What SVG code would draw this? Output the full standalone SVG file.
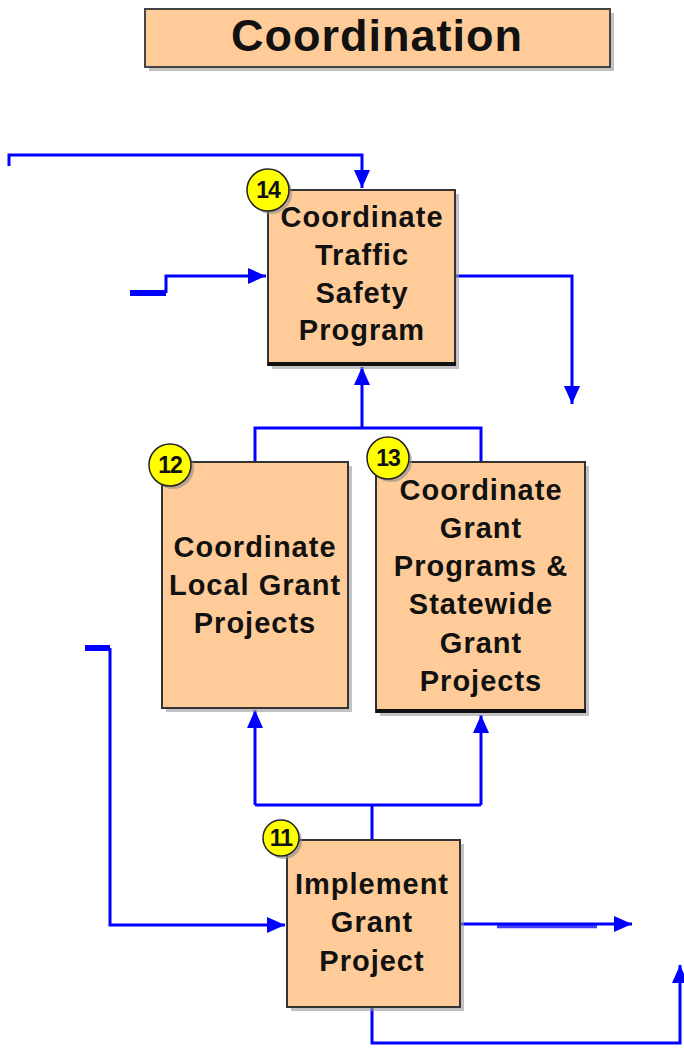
<svg xmlns="http://www.w3.org/2000/svg" width="684" height="1049" viewBox="0 0 684 1049">
<defs>
<marker id="a" viewBox="0 0 18 16" refX="18" refY="8" markerWidth="18" markerHeight="16" markerUnits="userSpaceOnUse" orient="auto">
<path d="M0,0 L18,8 L0,16 z" fill="#0000FF"/>
</marker>
</defs>
<style>
.box{fill:#FFCC99;stroke:#333;stroke-width:2}
.sh{fill:#9a9a9a;opacity:0.6}
.lbl{font-family:"Liberation Sans",Arial,sans-serif;font-weight:bold;font-size:29px;letter-spacing:1px;fill:#111;text-anchor:middle}
.badge{fill:#FFFF00;stroke:#222;stroke-width:1.5}
.bsh{fill:#888;opacity:0.6}
.num{font-family:"Liberation Sans",Arial,sans-serif;font-weight:bold;font-size:23px;letter-spacing:-1px;fill:#111;text-anchor:middle}
.c{fill:none;stroke:#0000FF;stroke-width:3}
.ct{fill:none;stroke:#0000FF;stroke-width:6}
</style>
<rect width="684" height="1049" fill="#fff"/>

<g id="title">
<rect x="149" y="13" width="465" height="58" class="sh"/>
<rect x="145" y="9" width="465" height="58" fill="#FFCC99" stroke="#444" stroke-width="2"/>
<text x="377" y="51" font-family="'Liberation Sans',Arial,sans-serif" font-weight="bold" font-size="45" letter-spacing="1" text-anchor="middle" fill="#111">Coordination</text>
</g>

<g id="connectors">
<polyline class="c" points="9,166 9,155 362,155 362,188" marker-end="url(#a)"/>
<polyline class="ct" points="130,293 166,293"/>
<polyline class="c" points="166,293 166,276 266,276" marker-end="url(#a)"/>
<polyline class="c" points="455,276 572,276 572,404" marker-end="url(#a)"/>
<polyline class="c" points="255,462 255,428 481,428 481,462"/>
<polyline class="c" points="362,428 362,367" marker-end="url(#a)"/>
<polyline class="ct" points="85,648 110,648"/>
<polyline class="c" points="110,648 110,925 285,925" marker-end="url(#a)"/>
<polyline class="c" points="460,924 632,924" marker-end="url(#a)"/>
<polyline fill="none" stroke="#0000FF" stroke-width="4.5" stroke-opacity="0.75" points="497,926 597,926"/>
<polyline class="c" points="372,840 372,805"/>
<polyline class="c" points="255,805 481,805"/>
<polyline class="c" points="255,805 255,710" marker-end="url(#a)"/>
<polyline class="c" points="481,805 481,715" marker-end="url(#a)"/>
<polyline class="c" points="372,1008 372,1043 680,1043 680,965" marker-end="url(#a)"/>
</g>

<g id="node14">
<rect x="272" y="194" width="187" height="175" class="sh"/>
<rect x="268" y="190" width="187" height="175" class="box"/>
<line x1="268" y1="364" x2="456" y2="364" stroke="#111" stroke-width="4"/>
<text class="lbl"><tspan x="362" y="227">Coordinate</tspan><tspan x="362" y="265">Traffic</tspan><tspan x="362" y="303">Safety</tspan><tspan x="362" y="340">Program</tspan></text>
<circle cx="271" cy="193" r="21" class="bsh"/>
<circle cx="268" cy="190" r="21" class="badge"/>
<text x="268" y="198" class="num">14</text>
</g>

<g id="node12">
<rect x="166" y="466" width="186" height="246" class="sh"/>
<rect x="162" y="462" width="186" height="246" class="box"/>
<text class="lbl"><tspan x="255" y="557">Coordinate</tspan><tspan x="255" y="595">Local Grant</tspan><tspan x="255" y="633">Projects</tspan></text>
<circle cx="173" cy="468" r="21" class="bsh"/>
<circle cx="170" cy="465" r="21" class="badge"/>
<text x="170" y="473" class="num">12</text>
</g>

<g id="node13">
<rect x="380" y="466" width="209" height="250" class="sh"/>
<rect x="376" y="462" width="209" height="250" class="box"/>
<line x1="376" y1="711" x2="586" y2="711" stroke="#111" stroke-width="4"/>
<text class="lbl"><tspan x="481" y="500">Coordinate</tspan><tspan x="481" y="538">Grant</tspan><tspan x="481" y="576">Programs &amp;</tspan><tspan x="481" y="614">Statewide</tspan><tspan x="481" y="653">Grant</tspan><tspan x="481" y="691">Projects</tspan></text>
<circle cx="391" cy="461" r="21" class="bsh"/>
<circle cx="388" cy="458" r="21" class="badge"/>
<text x="388" y="466" class="num">13</text>
</g>

<g id="node11">
<rect x="291" y="844" width="173" height="167" class="sh"/>
<rect x="287" y="840" width="173" height="167" class="box"/>
<text class="lbl"><tspan x="372" y="894">Implement</tspan><tspan x="372" y="932">Grant</tspan><tspan x="372" y="971">Project</tspan></text>
<circle cx="284" cy="841" r="18" class="bsh"/>
<circle cx="281" cy="838" r="18" class="badge"/>
<text x="281" y="846" class="num">11</text>
</g>
</svg>
